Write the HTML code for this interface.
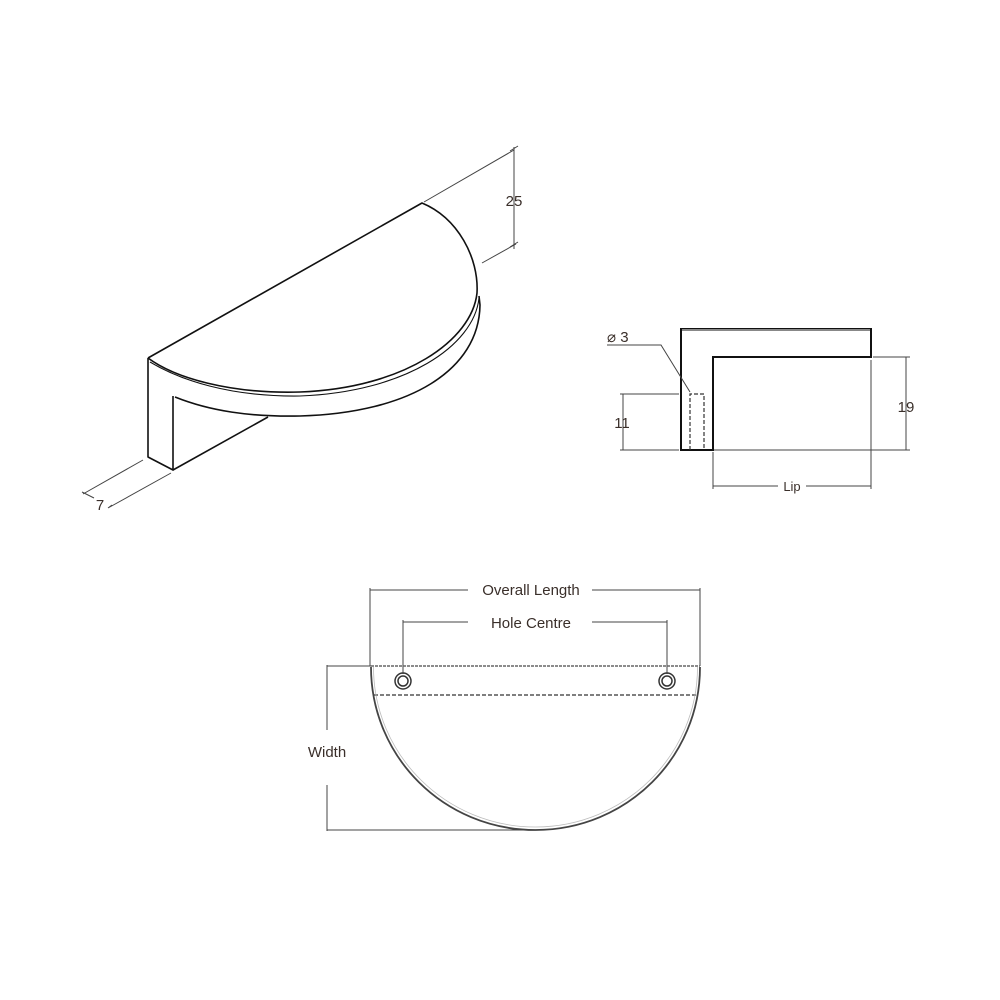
<!DOCTYPE html>
<html><head><meta charset="utf-8"><style>
html,body{margin:0;padding:0;background:#fff;}
svg{display:block;}
text{font-family:"Liberation Sans",sans-serif;fill:#3a2f2a;}
</style></head><body>
<svg width="1000" height="1000" viewBox="0 0 1000 1000" xmlns="http://www.w3.org/2000/svg">
<g fill="none" stroke="#111" stroke-width="1.6" stroke-linejoin="round">
  <path d="M148,358 L422,203 C458,218 479,258 477,293 C472,340 405,388 300,392 C230,394 175,378 148,358"/>
  <path d="M150,362 C180,380 230,397 300,396 C405,392 474,346 479,298" stroke-width="1.1"/>
  <path d="M175,397 C210,411 250,417 300,416 C410,413 479,370 480,305 L479,296"/>
  <path d="M148,358 L148,457 L173,470 L173,396"/>
  <path d="M173,470 L268,417"/>
</g>
<g fill="none" stroke="#444" stroke-width="1">
  <path d="M424,202 L514,150 M482,263 L516,244 M514,147 L514,249"/>
  <path d="M510,151 L518,146 M510,247 L518,242"/>
  <path d="M143,460 L83,494 M171,473 L108,508 M82,492 L94,498 M108,508 L112,505"/>
</g>
<text x="514" y="206" font-size="15" text-anchor="middle">25</text>
<text x="100" y="510" font-size="15" text-anchor="middle">7</text>

<g fill="none" stroke="#111" stroke-width="2">
  <path d="M681,450 L681,329 L871,329 L871,357 L713,357 L713,450 Z"/>
</g>
<path d="M682,330 L870,330" stroke="#888" stroke-width="2"/>
<g fill="none" stroke="#333" stroke-width="1.2" stroke-dasharray="4,2">
  <path d="M690,450 L690,394 L704,394 L704,450"/>
</g>
<g fill="none" stroke="#444" stroke-width="1">
  <path d="M607,345 L661,345 L690,392"/>
  <path d="M623,394 L623,450 M620,394 L679,394 M620,450 L679,450"/>
  <path d="M906,357 L906,450 M873,357 L910,357 M714,450 L910,450"/>
  <path d="M713,452 L713,489 M871,360 L871,489"/>
  <path d="M713,486 L778,486 M806,486 L871,486"/>
</g>
<text x="607" y="342" font-size="15">⌀ 3</text>
<text x="622" y="428" font-size="15" text-anchor="middle">11</text>
<text x="906" y="412" font-size="15" text-anchor="middle">19</text>
<text x="792" y="491" font-size="13" text-anchor="middle">Lip</text>

<g fill="none" stroke="#444" stroke-width="1">
  <path d="M370,588 L370,666 M700,588 L700,666 M370,590 L468,590 M592,590 L700,590"/>
  <path d="M403,620 L403,674 M667,620 L667,674 M403,622 L468,622 M592,622 L667,622"/>
  <path d="M327,665 L327,730 M327,785 L327,831 M327,666 L372,666 M327,830 L535,830"/>
</g>
<path d="M371,666 L700,666" stroke="#666" stroke-width="1.6" stroke-dasharray="3,1"/>
<path d="M374,695 L698,695" stroke="#333" stroke-width="1.3" stroke-dasharray="4,2"/>
<path d="M371,667 C371,757 444,830 535.5,830 C627,830 700,757 700,667" fill="none" stroke="#444" stroke-width="1.8"/>
<path d="M373.5,667 C373.5,755 446,827 535.5,827 C625,827 697.5,755 697.5,667" fill="none" stroke="#bbb" stroke-width="0.8"/>
<circle cx="403" cy="681" r="8" fill="none" stroke="#333" stroke-width="1.5"/>
<circle cx="403" cy="681" r="5" fill="none" stroke="#333" stroke-width="1.5"/>
<circle cx="667" cy="681" r="8" fill="none" stroke="#333" stroke-width="1.5"/>
<circle cx="667" cy="681" r="5" fill="none" stroke="#333" stroke-width="1.5"/>
<text x="531" y="595" font-size="15" text-anchor="middle">Overall Length</text>
<text x="531" y="628" font-size="15" text-anchor="middle">Hole Centre</text>
<text x="327" y="757" font-size="15" text-anchor="middle">Width</text>
</svg>
</body></html>
